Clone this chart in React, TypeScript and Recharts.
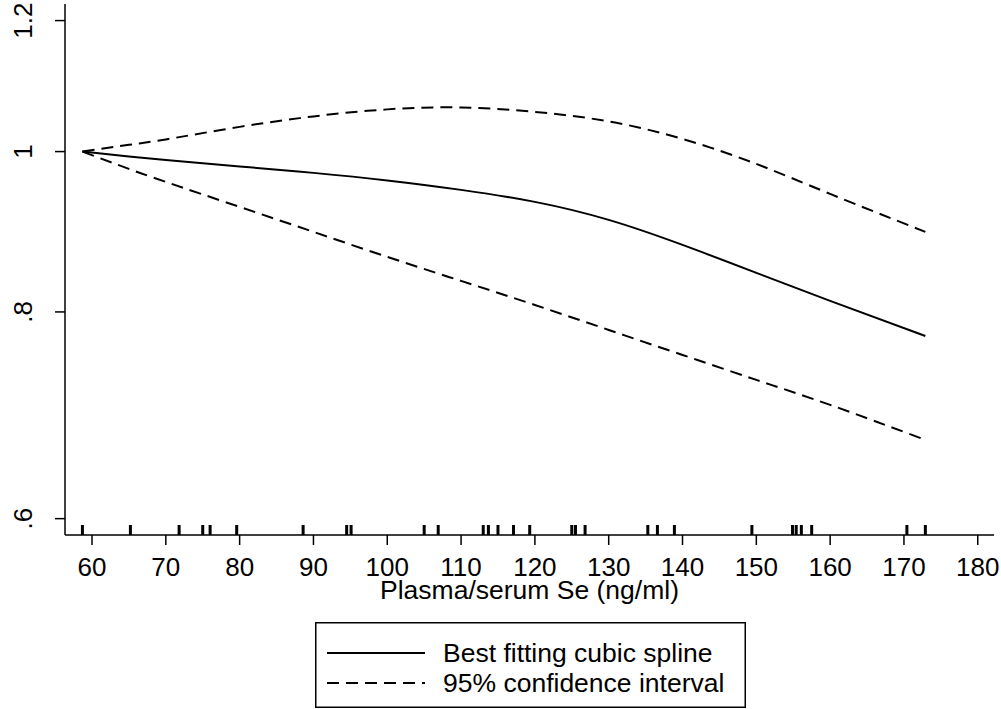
import React from 'react';
import {
    ComposedChart,
    Line,
    Scatter,
    XAxis,
    YAxis,
    Legend
} from 'recharts';

// Se values (ng/ml) where the spline was evaluated
const SE_VALUES = [58.7, 65, 70, 80, 90, 100, 110, 120, 130, 140, 150, 160, 172.9];
// relative risk (log y axis)
const FIT = [1.0, 0.9933, 0.9885, 0.9796, 0.9708, 0.9607, 0.9481, 0.9324, 0.9093, 0.8782, 0.8447, 0.8124, 0.7737];
const CI_LOW = [1.0, 0.9762, 0.9587, 0.9259, 0.8943, 0.8637, 0.8353, 0.8078, 0.7802, 0.7535, 0.7278, 0.7029, 0.6695];
const CI_HIGH = [1.0, 1.0094, 1.0171, 1.035, 1.0502, 1.0605, 1.0634, 1.0568, 1.0429, 1.0178, 0.983, 0.9428, 0.8943];

// study-level Se values shown as a rug along the bottom
const RUG = [
    58.7, 65.2, 71.8, 75.0, 76.0, 79.6, 88.6, 94.5, 95.1, 105.0, 106.9, 113.0, 113.7,
    115.0, 117.1, 119.3, 125.0, 125.5, 126.8, 135.3, 136.6, 138.9, 149.4, 154.9,
    155.4, 156.1, 157.5, 170.4, 172.9
];

const X_TICKS = [60, 70, 80, 90, 100, 110, 120, 130, 140, 150, 160, 170, 180];
const Y_TICKS = [0.6, 0.8, 1, 1.2];
const LEGEND_LABELS = ['Best fitting cubic spline', '95% confidence interval'];

const X_DOMAIN: [number, number] = [56.34, 182.2];
const Y_DOMAIN: [number, number] = [0.5865, 1.228];

const FONT = '"Liberation Sans", Arial, Helvetica, sans-serif';
const FONT_SIZE = 26;
const DASH = '12 7';

const chartData = SE_VALUES.map((x, i) => ({ x, fit: FIT[i], lo: CI_LOW[i], hi: CI_HIGH[i] }));
const rugData = RUG.map(x => ({ x, y: Y_DOMAIN[0] }));

const fmtY = (v: number) => (v >= 1 ? String(v) : String(v).replace(/^0/, ''));

const XTick = (props: any) => {
    const { x, y, payload } = props;
    return (
        <text x={x} y={y + 29} textAnchor="middle" fill="#000" fontSize={FONT_SIZE} fontFamily={FONT}>
            {payload.value}
        </text>
    );
};

const YTick = (props: any) => {
    const { y, payload } = props;
    const bx = 32;
    return (
        <text x={bx} y={y} textAnchor="middle" fill="#000" fontSize={FONT_SIZE} fontFamily={FONT}
            transform={`rotate(-90, ${bx}, ${y})`}>
            {fmtY(payload.value)}
        </text>
    );
};

const RugMark = (props: any) => {
    const { cx, cy } = props;
    return <rect x={cx - 1.5} y={cy - 10} width={3} height={10} fill="#000" />;
};

const renderLegend = () => (
    <svg width={431} height={86} style={{ display: 'block' }}>
        <rect x={0.75} y={0.75} width={429.5} height={84.5} fill="#fff" stroke="#000" strokeWidth={1.5} />
        <line x1={12} y1={31} x2={110} y2={31} stroke="#000" strokeWidth={2} />
        <text x={128} y={40} fontSize={26.5} fontFamily={FONT} fill="#000">{LEGEND_LABELS[0]}</text>
        <line x1={12} y1={61} x2={110} y2={61} stroke="#000" strokeWidth={2} strokeDasharray={DASH} />
        <text x={128} y={70} fontSize={26.5} fontFamily={FONT} fill="#000">{LEGEND_LABELS[1]}</text>
    </svg>
);

const App: React.FC = () => {
    return (
        <div style={{ position: 'absolute', left: 0, top: 0, width: 1001, height: 709, background: '#fff' }}>
            <ComposedChart
                width={1001}
                height={709}
                data={chartData}
                margin={{ top: 4, right: 7, bottom: 1, left: 0 }}
            >
                <XAxis
                    dataKey="x"
                    type="number"
                    domain={X_DOMAIN}
                    ticks={X_TICKS}
                    allowDataOverflow
                    tickSize={10}
                    height={87}
                    stroke="#000"
                    strokeWidth={1.5}
                    tickLine={{ stroke: '#000', strokeWidth: 1.5 }}
                    tick={<XTick />}
                    label={{
                        content: (p: any) => {
                            const vb = p.viewBox;
                            return (
                                <text x={vb.x + vb.width / 2} y={vb.y + 64} textAnchor="middle"
                                    fontSize={26.5} fontFamily={FONT} fill="#000">
                                    Plasma/serum Se (ng/ml)
                                </text>
                            );
                        }
                    }}
                />
                <YAxis
                    type="number"
                    scale="log"
                    domain={Y_DOMAIN}
                    ticks={Y_TICKS}
                    allowDataOverflow
                    width={65}
                    tickSize={10}
                    stroke="#000"
                    strokeWidth={1.5}
                    tickLine={{ stroke: '#000', strokeWidth: 1.5 }}
                    tick={<YTick />}
                />
                <Legend
                    content={renderLegend}
                    verticalAlign="bottom"
                    wrapperStyle={{ left: 315, bottom: 1, width: 431, height: 86 }}
                />
                <Line type="natural" dataKey="hi" stroke="#000" strokeWidth={2} strokeDasharray={DASH}
                    dot={false} isAnimationActive={false} legendType="none" />
                <Line type="natural" dataKey="lo" stroke="#000" strokeWidth={2} strokeDasharray={DASH}
                    dot={false} isAnimationActive={false} legendType="none" />
                <Line type="natural" dataKey="fit" stroke="#000" strokeWidth={2}
                    dot={false} isAnimationActive={false} legendType="none" />
                <Scatter data={rugData} dataKey="y" shape={<RugMark />} isAnimationActive={false} legendType="none" />
            </ComposedChart>
        </div>
    );
};

export default App;
